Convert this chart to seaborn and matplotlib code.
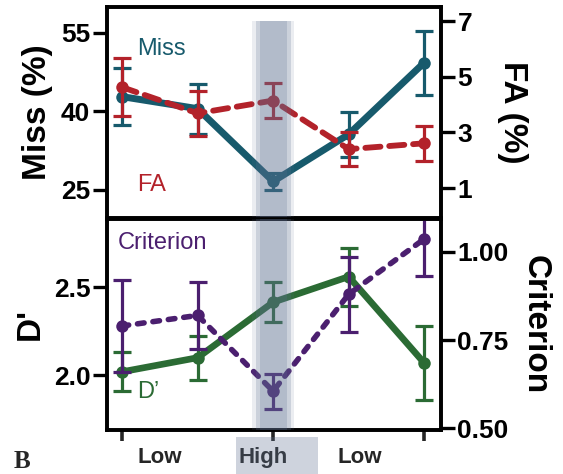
import numpy as np
import pandas as pd
import matplotlib
matplotlib.use("Agg")
import matplotlib.pyplot as plt
import seaborn as sns
from matplotlib.patches import Rectangle

# data
blocks = [1, 2, 3, 4, 5]
miss = [42.8, 40.5, 26.6, 35.6, 49.3]
miss_err = [5.4, 4.8, 1.6, 4.3, 6.1]
fa = [4.63, 3.69, 4.15, 2.40, 2.61]
fa_err = [1.05, 0.80, 0.62, 0.60, 0.63]
dprime = [2.02, 2.10, 2.415, 2.56, 2.07]
dprime_err = [0.11, 0.125, 0.115, 0.165, 0.21]
criterion = [0.79, 0.82, 0.605, 0.88, 1.037]
criterion_err = [0.13, 0.095, 0.05, 0.107, 0.105]
period_labels = ["Low", "High", "Low"]

C_MISS = "#175a6c"
C_FA = "#b3222a"
C_D = "#2b6b34"
C_CRIT = "#4b1f6f"
BAND = "#5d6f90"

sns.set_theme(style="white")
plt.rcParams["font.family"] = ["Liberation Sans", "DejaVu Sans"]

df = pd.DataFrame({"block": blocks, "miss": miss, "fa": fa,
                   "dprime": dprime, "criterion": criterion})

fig = plt.figure(figsize=(5.63, 4.74), dpi=100)
ax_top = fig.add_axes([0.190, 0.540, 0.593, 0.446])
ax_bot = fig.add_axes([0.190, 0.093, 0.593, 0.446])
ax_top_r = ax_top.twinx()
ax_bot_r = ax_bot.twinx()


def draw(ax, col, err, color, lw, ls):
    sns.lineplot(data=df, x="block", y=col, ax=ax, color=color, linewidth=lw,
                 linestyle=ls, marker="o", markersize=9, markeredgewidth=0,
                 dash_capstyle="round", solid_capstyle="round")
    ax.errorbar(df["block"], df[col], yerr=err, fmt="none", ecolor=color,
                elinewidth=2.3, capsize=6.5, capthick=2.3)


draw(ax_top, "miss", miss_err, C_MISS, 5.0, "-")
draw(ax_top_r, "fa", fa_err, C_FA, 4.2, (0, (2.6, 1.5)))
draw(ax_bot, "dprime", dprime_err, C_D, 4.8, "-")
draw(ax_bot_r, "criterion", criterion_err, C_CRIT, 4.0, (0, (1.2, 1.6)))

ax_top.set_ylim(19.6, 60)
ax_top_r.set_ylim(-0.08, 7.53)
ax_bot.set_ylim(1.69, 2.89)
ax_bot_r.set_ylim(0.495, 1.095)

ax_top.set_yticks([25, 40, 55])
ax_top_r.set_yticks([1, 3, 5, 7])
ax_bot.set_yticks([2.0, 2.5])
ax_bot.set_yticklabels(["2.0", "2.5"])
ax_bot_r.set_yticks([0.50, 0.75, 1.00])
ax_bot_r.set_yticklabels(["0.50", "0.75", "1.00"])

for ax in (ax_top, ax_top_r, ax_bot, ax_bot_r):
    ax.set_xlim(0.8, 5.22)
    ax.set_xlabel("")
    for s in ax.spines.values():
        s.set_linewidth(2.6)
        s.set_color("black")
    ax.tick_params(axis="y", length=10, width=2.4, pad=2, labelsize=19,
                   colors="black")
    for t in ax.get_yticklabels():
        t.set_fontweight("bold")

ax_top.set_xticks([])
ax_top_r.set_xticks([])
ax_bot_r.set_xticks([])
ax_bot.set_xticks([1, 3, 5])
ax_bot.set_xticklabels(["", "", ""])
ax_bot.tick_params(axis="x", which="major", bottom=True, length=8, width=2.6)
ax_bot.set_xticks([1.5, 2.87, 4.15], period_labels, minor=True)
ax_bot.tick_params(axis="x", which="minor", bottom=True, length=0, pad=12,
                   labelsize=16)
for t in ax_bot.get_xticklabels(minor=True):
    t.set_fontweight("bold")

lab = dict(fontsize=24, fontweight="bold", color="black")
ax_top.set_ylabel("Miss (%)", labelpad=6, **lab)
ax_top_r.set_ylabel("FA (%)", rotation=-90, labelpad=40, **lab)
ax_bot.set_ylabel("D'", labelpad=6, **lab)
ax_bot_r.set_ylabel("Criterion", rotation=-90, labelpad=30, **lab)

ax_top.text(0.09, 0.80, "Miss", transform=ax_top.transAxes, color=C_MISS,
            fontsize=17, va="center")
ax_top.text(0.09, 0.156, "FA", transform=ax_top.transAxes, color=C_FA,
            fontsize=17, va="center")
ax_bot.text(0.033, 0.886, "Criterion", transform=ax_bot.transAxes,
            color=C_CRIT, fontsize=17, va="center")
ax_bot.text(0.09, 0.18, "D\u2019", transform=ax_bot.transAxes, color=C_D,
            fontsize=17, va="center")

# shaded "High" block
for ax, top in ((ax_top_r, 0.93), (ax_bot_r, 1.0)):
    ax.axvspan(2.72, 3.28, ymax=top, color=BAND, alpha=0.12, lw=0, zorder=10)
    ax.axvspan(2.77, 3.23, ymax=top, color=BAND, alpha=0.22, lw=0, zorder=10)
    ax.axvspan(2.82, 3.18, ymax=top, color=BAND, alpha=0.22, lw=0, zorder=10)
fig.patches.append(Rectangle((236 / 563, 0), 82 / 563, 37 / 474,
                             transform=fig.transFigure, color=BAND,
                             alpha=0.3, lw=0, zorder=0))

fig.text(22 / 563, 1 - 461 / 474, "B", fontsize=18, fontweight="bold",
         family="Liberation Serif", ha="center", va="center")

fig.savefig("out.png", dpi=100)
